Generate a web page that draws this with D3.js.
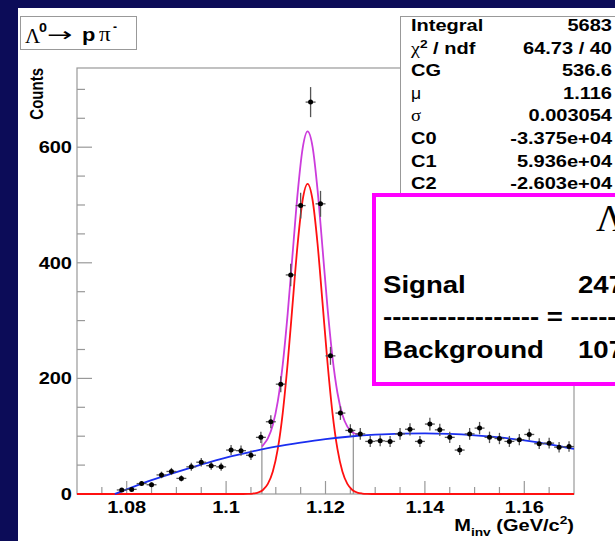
<!DOCTYPE html>
<html><head><meta charset="utf-8">
<script src="https://cdn.jsdelivr.net/npm/d3@7"></script>
<style>html,body{margin:0;padding:0;background:#0c0c58;}svg{display:block;}</style>
</head><body>
<script>
// ---- data ----
const binCenters = [1.079,1.081,1.083,1.085,1.087,1.089,1.091,1.093,1.095,1.097,1.099,1.101,1.103,1.105,1.107,1.109,1.111,1.113,1.115,1.117,1.119,1.121,1.123,1.125,1.127,1.129,1.131,1.133,1.135,1.137,1.139,1.141,1.143,1.145,1.147,1.149,1.151,1.153,1.155,1.157,1.159,1.161,1.163,1.165,1.167,1.169];
const counts = [7,8,18,16,33,39,27,47,55,49,47,76,75,67,98,125,190,379,499,678,502,239,140,110,104,91,92,91,104,112,91,121,111,98,76,104,114,98,96,91,94,103,87,88,81,82];
const errors = [2.6,2.8,4.2,4,5.7,6.2,5.2,6.9,7.4,7,6.9,8.7,8.7,8.2,9.9,11.2,13.8,19.5,22.3,26,22.4,15.5,11.8,10.5,10.2,9.5,9.6,9.5,10.2,10.6,9.5,11,10.5,9.9,8.7,10.2,10.7,9.9,9.8,9.5,9.7,10.1,9.3,9.4,9,9.1];
const binHalfWidth = 0.001;

// background fit (blue)
const bgX = [1.0776,1.08,1.085,1.09,1.095,1.10,1.105,1.11,1.115,1.12,1.125,1.13,1.135,1.14,1.145,1.15,1.155,1.16,1.165,1.17];
const bgY = [0,8,24,38,51,63,73,82,89,95,99.5,102.7,104.6,105,104,101.6,98,92.7,86,78];

// signal gaussian (red)
const sigX = [1.07,1.1024,1.1034,1.1044,1.1054,1.1064,1.1074,1.1084,1.1094,1.1104,1.1114,1.1124,1.1134,1.1144,1.1154,1.1164,1.1174,1.1184,1.1194,1.1204,1.1214,1.1224,1.1234,1.1244,1.1254,1.1264,1.1274,1.1284,1.1294,1.1304,1.17];
const sigY = [0,0,0,0.2,0.8,2.5,7.0,17.4,38.8,77.9,140.5,227.5,331,433,508.6,536.6,508.6,433,331,227.5,140.5,77.9,38.8,17.4,7.0,2.5,0.8,0.2,0,0,0];

// total fit (magenta)
const totX = [1.1072,1.1074,1.1084,1.1094,1.1104,1.1114,1.1124,1.1134,1.1144,1.1154,1.1164,1.1174,1.1184,1.1194,1.1204,1.1214,1.1224,1.1234,1.1244,1.1254,1.1264,1.1274];
const totY = [82,84.2,96.3,119.4,160.1,224.3,312.8,417.7,521.1,598.1,627.4,600.6,526.2,425.3,322.9,236.9,175.2,137,116.5,106.8,103.1,102.1];

// integration limits
const limitX = [1.1072,1.1256];
const limitTop = [97,110];

const xTicksMajor = [1.08,1.10,1.12,1.14,1.16];
const xTickLabels = ["1.08","1.1","1.12","1.14","1.16"];
const xTicksMinor = [1.075,1.085,1.09,1.095,1.105,1.11,1.115,1.125,1.13,1.135,1.145,1.15,1.155,1.165];
const yTicksMajor = [0,200,400,600];
const yTicksMinor = [50,100,150,250,300,350,450,500,550,650,700];

const statNames = ["Integral","χ2 / ndf","CG","μ","σ","C0","C1","C2"];
const statValues = ["5683","64.73 / 40","536.6","1.116","0.003054","-3.375e+04","5.936e+04","-2.603e+04"];

// ---- drawing ----
const W=615,H=541;
const SANS='"Liberation Sans", Arial, Helvetica, sans-serif';
const SERIF='"Liberation Serif", "Times New Roman", serif';
const SX=1.25;
const svg=d3.select("body").append("svg").attr("width",W).attr("height",H);
svg.append("rect").attr("width",W).attr("height",H).attr("fill","#0c0c58");
svg.append("rect").attr("x",18).attr("y",8).attr("width",W-18).attr("height",H-8).attr("fill","#fff");

const fr={l:77,t:68,r:574,b:494};
const x=d3.scaleLinear().domain([1.07,1.17]).range([fr.l,fr.r]);
const y=d3.scaleLinear().domain([0,737]).range([fr.b,fr.t]);

function txt(g,px,py,s,o={}){
  const t=g.append("text").attr("transform",`translate(${px},${py}) scale(${o.sx||SX},1)`)
    .attr("font-family",o.ff||SANS).attr("font-size",o.fs||16).attr("font-weight",o.fw||"bold")
    .attr("text-anchor",o.anchor||"start").attr("fill",o.fill||"#000").text(s);
  return t;
}

const axisCol="#999";
// frame
svg.append("rect").attr("x",fr.l).attr("y",fr.t).attr("width",fr.r-fr.l).attr("height",fr.b-fr.t)
  .attr("fill","none").attr("stroke",axisCol).attr("stroke-width",1.2);

// y axis ticks
const gy=svg.append("g");
yTicksMajor.forEach(v=>{gy.append("line").attr("x1",fr.l).attr("x2",fr.l+15).attr("y1",y(v)).attr("y2",y(v)).attr("stroke",axisCol).attr("stroke-width",1.2);});
yTicksMinor.forEach(v=>{gy.append("line").attr("x1",fr.l).attr("x2",fr.l+8).attr("y1",y(v)).attr("y2",y(v)).attr("stroke",axisCol).attr("stroke-width",1.2);});
yTicksMajor.forEach(v=>{txt(gy,72,y(v)+6,String(v),{anchor:"end"});});
// x axis ticks
const gx=svg.append("g");
xTicksMajor.forEach(v=>{gx.append("line").attr("x1",x(v)).attr("x2",x(v)).attr("y1",fr.b).attr("y2",fr.b-13).attr("stroke",axisCol).attr("stroke-width",1.2);});
xTicksMinor.forEach(v=>{gx.append("line").attr("x1",x(v)).attr("x2",x(v)).attr("y1",fr.b).attr("y2",fr.b-7).attr("stroke",axisCol).attr("stroke-width",1.2);});
xTicksMajor.forEach((v,i)=>{txt(gx,x(v),513,xTickLabels[i],{anchor:"middle"});});

// axis titles
svg.append("text").attr("transform",`translate(43,68) rotate(-90) scale(1,1.25)`)
  .attr("font-family",SANS).attr("font-size",15).attr("font-weight","bold").attr("text-anchor","end").text("Counts");
const xt=svg.append("text").attr("transform",`translate(574,531) scale(1.25,1)`)
  .attr("font-family",SANS).attr("font-size",16).attr("font-weight","bold").attr("text-anchor","end");
xt.append("tspan").text("M");
xt.append("tspan").attr("font-size",11).attr("dy",5).text("inv");
xt.append("tspan").attr("dy",-5).text(" (GeV/c");
xt.append("tspan").attr("font-size",11).attr("dy",-7).text("2");
xt.append("tspan").attr("dy",7).text(")");

// clip
svg.append("clipPath").attr("id","fc").append("rect").attr("x",fr.l).attr("y",fr.t-2).attr("width",fr.r-fr.l).attr("height",fr.b-fr.t+3);
const gp=svg.append("g").attr("clip-path","url(#fc)");

// limit lines
limitX.forEach((v,i)=>{gp.append("line").attr("x1",x(v)).attr("x2",x(v)).attr("y1",y(0)).attr("y2",y(limitTop[i])).attr("stroke","#999").attr("stroke-width",1.3);});

const line=d3.line().curve(d3.curveMonotoneX);
gp.append("path").attr("d",line(sigX.map((v,i)=>[x(v),y(sigY[i])]))).attr("fill","none").attr("stroke","#ff1010").attr("stroke-width",1.8);
gp.append("path").attr("d",line(totX.map((v,i)=>[x(v),y(totY[i])]))).attr("fill","none").attr("stroke","#cc3cdc").attr("stroke-width",1.8);
gp.append("path").attr("d",line(bgX.map((v,i)=>[x(v),y(bgY[i])]))).attr("fill","none").attr("stroke","#1a2ef0").attr("stroke-width",1.8);

// data points
const gd=gp.append("g");
binCenters.forEach((c,i)=>{
  gd.append("line").attr("x1",x(c)).attr("x2",x(c)).attr("y1",y(counts[i]-errors[i])).attr("y2",y(counts[i]+errors[i])).attr("stroke","#555").attr("stroke-width",1.3);
  gd.append("line").attr("x1",x(c-binHalfWidth)).attr("x2",x(c+binHalfWidth)).attr("y1",y(counts[i])).attr("y2",y(counts[i])).attr("stroke","#555").attr("stroke-width",1.3);
  gd.append("circle").attr("cx",x(c)).attr("cy",y(counts[i])).attr("r",2.5).attr("fill","#000");
});

// title box
svg.append("rect").attr("x",20.5).attr("y",16.5).attr("width",116).attr("height",33).attr("fill","#fff").attr("stroke","#999").attr("stroke-width",1);
txt(svg,25,43,"Λ",{ff:SERIF,fw:"normal",fs:21,sx:1});
txt(svg,39,32,"0",{fs:13,sx:1.1});
txt(svg,47,41,"→",{ff:'"DejaVu Sans", sans-serif',fw:"normal",fs:19,sx:1.6});
txt(svg,82,41,"p",{fs:19,sx:1.15});
txt(svg,99,41,"π",{ff:SERIF,fw:"normal",fs:21,sx:1.1});
txt(svg,113,31,"-",{fs:12,sx:1});

// stats box
svg.append("rect").attr("x",400.5).attr("y",16.5).attr("width",230).attr("height",185).attr("fill","#fff").attr("stroke","#999").attr("stroke-width",1);
const gs=svg.append("g");
statNames.forEach((n,i)=>{
  const by=31+i*22.6;
  if(i===1){
    const t=gs.append("text").attr("transform",`translate(411,${by}) scale(${SX},1)`).attr("font-family",SANS).attr("font-size",16).attr("font-weight","bold");
    t.append("tspan").attr("font-family",SERIF).attr("font-weight","normal").text("χ");
    t.append("tspan").attr("font-size",11).attr("dy",-6).text("2");
    t.append("tspan").attr("dy",6).text(" / ndf");
  } else if(i===3){
    txt(gs,411,by,n,{fw:"normal",sx:1.1});
  } else if(i===4){
    txt(gs,411,by,n,{ff:SERIF,fw:"normal",fs:17,sx:1.1});
  } else {
    txt(gs,411,by,n);
  }
  txt(gs,612,by,statValues[i],{anchor:"end"});
});

// signal/background box
const mb=svg.append("g");
mb.append("rect").attr("x",374).attr("y",195).attr("width",260).attr("height",189).attr("fill","#fff").attr("stroke","#ff00ff").attr("stroke-width",4);
txt(mb,596,231,"Λ",{ff:SERIF,fw:"normal",fs:38,sx:1});
txt(mb,383,293,"Signal",{fs:23,sx:1.2});
txt(mb,578,293,"247",{fs:23,sx:1.2});
txt(mb,383,325,"----------------- = -----",{fs:23,sx:1.2});
txt(mb,383,358,"Background",{fs:23,sx:1.2});
txt(mb,578,358,"107",{fs:23,sx:1.2});
</script>
</body></html>
